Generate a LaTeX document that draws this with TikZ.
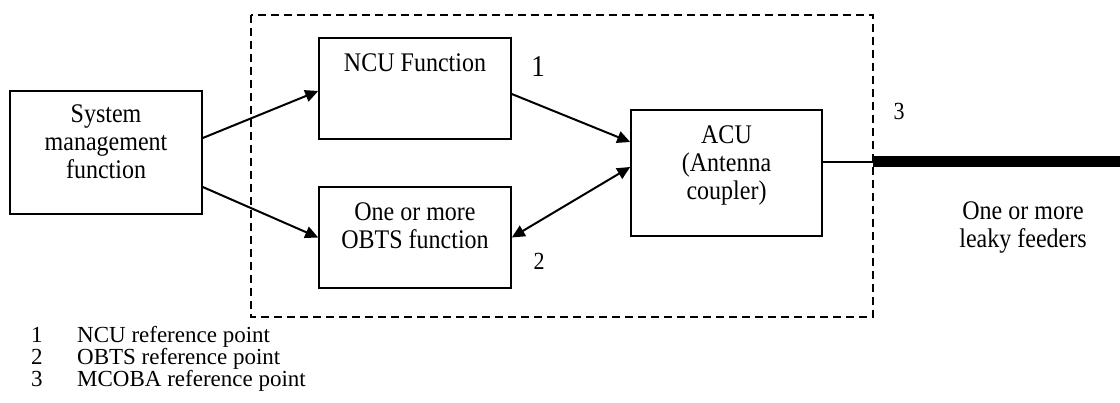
\documentclass[tikz,border=0pt]{standalone}
\usepackage{fontspec}
\setmainfont{Liberation Serif}
\usetikzlibrary{arrows.meta,calc}
\newcommand{\talltext}[1]{\scalebox{1}[1.12]{\begin{tabular}{@{}c@{}}#1\end{tabular}}}
\newcommand{\tallone}[1]{\scalebox{1}[1.12]{#1}}
\tikzset{
  boxnode/.style={draw, line width=1.6pt, inner sep=0pt},
  txt/.style={align=center, inner sep=0pt, font=\fontsize{24}{25}\selectfont},
  arr/.style={line width=2pt, -{Triangle[length=13pt,width=12pt]}},
  biarr/.style={line width=2pt, {Triangle[length=13pt,width=12pt]}-{Triangle[length=13pt,width=12pt]}},
  legend/.style={anchor=base west, inner sep=0pt, text height=16pt, text depth=4pt, font=\fontsize{23}{26}\selectfont},
  refnum/.style={inner sep=0pt}
}
\begin{document}
\begin{tikzpicture}[x=1pt,y=-1pt]
\useasboundingbox (0,0) rectangle (1120,403);
% dashed boundary
\draw[line width=1.3pt, dash pattern=on 8pt off 5pt] (251,15) rectangle (873,317);
% boxes
\node[boxnode, minimum width=192pt, minimum height=123pt] (sys) at (106,152.5) {};
\node[txt] (systxt) at (106,145) {\talltext{System\\management\\function}};
\node[boxnode, minimum width=192pt, minimum height=101pt] (ncu) at (415,88.5) {};
\node[txt] (ncutxt) at (415,66) {\talltext{NCU Function}};
\node[boxnode, minimum width=192pt, minimum height=101pt] (obts) at (415,237.5) {};
\node[txt] (obtstxt) at (415,229) {\talltext{One or more\\OBTS function}};
\node[boxnode, minimum width=191pt, minimum height=126pt] (acu) at (726.5,173) {};
\node[txt] (acutxt) at (726.5,166) {\talltext{ACU\\(Antenna\\coupler)}};
% reference labels
\node[refnum, font=\fontsize{27}{30}\selectfont] (r1) at (538,67) {\tallone{1}};
\node[refnum, font=\fontsize{22}{26}\selectfont] (r2) at (539,261) {\tallone{2}};
\node[refnum, font=\fontsize{22}{26}\selectfont] (r3) at (899,111) {\tallone{3}};
% connectors
\draw[arr] ($(sys.east)+(0,-14.5)$) -- ($(ncu.west)+(0,2.5)$);
\draw[arr] ($(sys.east)+(0,34.5)$) -- (obts.west);
\draw[arr] ($(ncu.east)+(0,5.5)$) -- ($(acu.west)+(0,-31)$);
\draw[biarr] ($(acu.west)+(0,-6)$) -- (obts.east);
\coordinate (p3) at (873,162);
\coordinate (feedend) at (1120,162);
\draw[line width=1.3pt] ($(acu.east)+(0,-11)$) -- (p3);
\draw[line width=11pt] (p3) -- (feedend);
\node[txt] (feedtxt) at (1023,228) {\talltext{One or more\\leaky feeders}};
% legend
\node[legend] (l1n) at (31,343) {1};
\node[legend] (l1t) at (77,343) {NCU reference point};
\node[legend] (l2n) at (31,365) {2};
\node[legend] (l2t) at (77,365) {OBTS reference point};
\node[legend] (l3n) at (31,387) {3};
\node[legend] (l3t) at (77,387) {MCOBA reference point};
\end{tikzpicture}
\end{document}
